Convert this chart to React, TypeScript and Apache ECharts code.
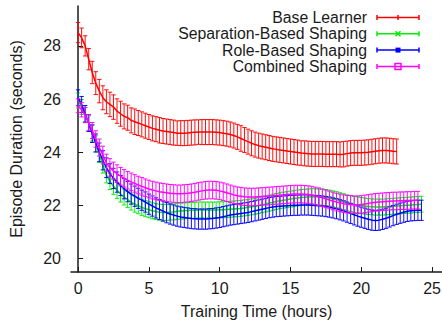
import { useEffect, useRef } from "react";
import * as echarts from "echarts";

const timeStep = 0.25;
const seriesNames = ["Base Learner", "Separation-Based Shaping", "Role-Based Shaping", "Combined Shaping"];
const seriesColors = ["#ff0000", "#00ee00", "#0000ff", "#ff00ff"];
const xTicks = [0, 5, 10, 15, 20, 25];
const yTicks = [20, 22, 24, 26, 28];

const baseMean = [
  28.5, 28.3, 28.0, 27.5, 27.0, 26.6, 26.3, 26.05, 25.9, 25.8,
  25.7, 25.55, 25.45, 25.35, 25.3, 25.2, 25.15, 25.1, 25.05, 25.0,
  24.95, 24.9, 24.87, 24.83, 24.8, 24.78, 24.76, 24.74, 24.72, 24.72,
  24.72, 24.73, 24.74, 24.75, 24.76, 24.76, 24.76, 24.76, 24.76, 24.75,
  24.74, 24.72, 24.7, 24.67, 24.63, 24.58, 24.52, 24.46, 24.4, 24.34,
  24.29, 24.25, 24.22, 24.19, 24.16, 24.13, 24.11, 24.09, 24.07, 24.05,
  24.03, 24.01, 23.99, 23.97, 23.96, 23.95, 23.94, 23.94, 23.94, 23.94,
  23.93, 23.93, 23.93, 23.93, 23.92, 23.93, 23.95, 23.97, 23.98, 23.98,
  23.98, 23.99, 24.0, 24.02, 24.04, 24.06, 24.07, 24.07, 24.06, 24.04,
  24.03,
];
const baseErr = [
  0.38, 0.37, 0.38, 0.40, 0.42, 0.43, 0.44, 0.45, 0.45, 0.46,
  0.46, 0.46, 0.47, 0.47, 0.47, 0.47, 0.48, 0.47, 0.47, 0.47,
  0.47, 0.47, 0.47, 0.48, 0.47, 0.47, 0.47, 0.47, 0.46, 0.47,
  0.47, 0.47, 0.47, 0.47, 0.46, 0.47, 0.47, 0.47, 0.47, 0.47,
  0.47, 0.47, 0.47, 0.47, 0.47, 0.47, 0.48, 0.47, 0.47, 0.47,
  0.47, 0.47, 0.47, 0.47, 0.47, 0.47, 0.47, 0.47, 0.47, 0.47,
  0.47, 0.47, 0.47, 0.46, 0.47, 0.47, 0.47, 0.47, 0.47, 0.47,
  0.47, 0.47, 0.47, 0.47, 0.47, 0.48, 0.47, 0.47, 0.47, 0.47,
  0.47, 0.47, 0.47, 0.47, 0.47, 0.47, 0.47, 0.47, 0.47, 0.47,
  0.47,
];

const sepMean = [
  25.95, 25.7, 25.4, 25.08, 24.72, 24.32, 23.92, 23.52, 23.15, 22.9,
  22.72, 22.57, 22.43, 22.32, 22.22, 22.13, 22.05, 21.99, 21.93, 21.88,
  21.84, 21.8, 21.77, 21.75, 21.74, 21.74, 21.75, 21.76, 21.78, 21.79,
  21.8, 21.81, 21.82, 21.82, 21.83, 21.83, 21.83, 21.83, 21.83, 21.83,
  21.84, 21.84, 21.85, 21.86, 21.87, 21.88, 21.89, 21.91, 21.93, 21.95,
  21.97, 22.0, 22.03, 22.06, 22.09, 22.12, 22.15, 22.18, 22.2, 22.22,
  22.24, 22.26, 22.28, 22.3, 22.31, 22.32, 22.33, 22.33, 22.32, 22.31,
  22.3, 22.28, 22.25, 22.22, 22.18, 22.14, 22.1, 22.07, 22.04, 22.02,
  22.0, 21.98, 21.96, 21.95, 21.94, 21.94, 21.94, 21.95, 21.96, 21.97,
  21.98, 21.99, 22.0, 22.01, 22.02, 22.03, 22.04, 22.05,
];
const sepErr = [
  0.28, 0.28, 0.29, 0.29, 0.3, 0.3, 0.3, 0.3, 0.3, 0.3,
  0.3, 0.3, 0.3, 0.3, 0.3, 0.3, 0.3, 0.3, 0.3, 0.3,
  0.3, 0.3, 0.3, 0.3, 0.3, 0.3, 0.3, 0.3, 0.3, 0.3,
  0.3, 0.3, 0.3, 0.3, 0.3, 0.3, 0.3, 0.3, 0.3, 0.3,
  0.3, 0.3, 0.3, 0.3, 0.3, 0.3, 0.3, 0.3, 0.3, 0.3,
  0.3, 0.3, 0.3, 0.3, 0.3, 0.3, 0.3, 0.3, 0.3, 0.3,
  0.3, 0.3, 0.3, 0.3, 0.3, 0.3, 0.3, 0.3, 0.3, 0.3,
  0.3, 0.3, 0.3, 0.3, 0.3, 0.3, 0.3, 0.3, 0.3, 0.3,
  0.3, 0.3, 0.3, 0.3, 0.3, 0.3, 0.3, 0.3, 0.3, 0.3,
  0.3, 0.3, 0.3, 0.3, 0.3, 0.3, 0.3, 0.3,
];

const roleMean = [
  26.05, 25.8, 25.45, 25.1, 24.7, 24.35, 24.0, 23.7, 23.42, 23.2,
  23.02, 22.88, 22.75, 22.63, 22.52, 22.43, 22.35, 22.27, 22.2, 22.13,
  22.05, 21.98, 21.91, 21.85, 21.79, 21.73, 21.68, 21.64, 21.6, 21.57,
  21.55, 21.53, 21.51, 21.5, 21.49, 21.49, 21.49, 21.5, 21.51, 21.53,
  21.55, 21.58, 21.61, 21.64, 21.66, 21.68, 21.7, 21.72, 21.74, 21.77,
  21.8, 21.83, 21.86, 21.89, 21.92, 21.94, 21.96, 21.97, 21.98, 21.99,
  22.0, 22.01, 22.01, 22.02, 22.02, 22.02, 22.01, 22.0, 21.99, 21.98,
  21.96, 21.94, 21.91, 21.88, 21.84, 21.8, 21.75, 21.7, 21.65, 21.6,
  21.56, 21.52, 21.48, 21.45, 21.44, 21.45, 21.48, 21.52, 21.57, 21.62,
  21.67, 21.71, 21.75, 21.78, 21.8, 21.81, 21.82, 21.82,
];
const roleErr = [
  0.3, 0.3, 0.31, 0.32, 0.33, 0.34, 0.35, 0.36, 0.37, 0.37,
  0.38, 0.38, 0.38, 0.38, 0.38, 0.38, 0.38, 0.38, 0.38, 0.38,
  0.38, 0.38, 0.38, 0.38, 0.38, 0.38, 0.38, 0.38, 0.38, 0.38,
  0.38, 0.38, 0.38, 0.38, 0.38, 0.38, 0.38, 0.38, 0.38, 0.38,
  0.38, 0.38, 0.38, 0.38, 0.38, 0.38, 0.38, 0.38, 0.38, 0.38,
  0.38, 0.38, 0.38, 0.38, 0.38, 0.38, 0.38, 0.38, 0.38, 0.38,
  0.38, 0.38, 0.38, 0.38, 0.38, 0.38, 0.38, 0.38, 0.38, 0.38,
  0.38, 0.38, 0.38, 0.38, 0.38, 0.38, 0.38, 0.38, 0.38, 0.38,
  0.38, 0.38, 0.38, 0.38, 0.38, 0.38, 0.38, 0.38, 0.38, 0.38,
  0.38, 0.38, 0.38, 0.38, 0.38, 0.38, 0.38, 0.38,
];

const combMean = [
  25.75, 25.6, 25.4, 25.12, 24.82, 24.5, 24.18, 23.9, 23.6, 23.43,
  23.3, 23.2, 23.1, 23.02, 22.95, 22.89, 22.83, 22.77, 22.72, 22.67,
  22.62, 22.58, 22.55, 22.52, 22.5, 22.48, 22.46, 22.45, 22.44, 22.44,
  22.45, 22.46, 22.48, 22.5, 22.53, 22.55, 22.57, 22.58, 22.58, 22.57,
  22.55, 22.52, 22.48, 22.44, 22.4, 22.37, 22.35, 22.33, 22.32, 22.32,
  22.32, 22.33, 22.34, 22.35, 22.36, 22.37, 22.38, 22.39, 22.4, 22.41,
  22.42, 22.43, 22.43, 22.43, 22.42, 22.41, 22.39, 22.36, 22.33, 22.29,
  22.25, 22.21, 22.17, 22.13, 22.1, 22.07, 22.05, 22.04, 22.03, 22.03,
  22.04, 22.06, 22.08, 22.1, 22.12, 22.13, 22.14, 22.15, 22.16, 22.17,
  22.17, 22.18, 22.18, 22.19, 22.19, 22.2, 22.2,
];
const combErr = [
  0.26, 0.27, 0.28, 0.29, 0.3, 0.31, 0.32, 0.33, 0.33, 0.33,
  0.33, 0.33, 0.33, 0.33, 0.33, 0.33, 0.33, 0.33, 0.33, 0.33,
  0.33, 0.33, 0.33, 0.33, 0.33, 0.33, 0.33, 0.33, 0.33, 0.33,
  0.33, 0.33, 0.33, 0.33, 0.33, 0.33, 0.33, 0.33, 0.33, 0.33,
  0.33, 0.33, 0.33, 0.33, 0.33, 0.33, 0.33, 0.33, 0.33, 0.33,
  0.33, 0.33, 0.33, 0.33, 0.33, 0.33, 0.33, 0.33, 0.33, 0.33,
  0.33, 0.33, 0.33, 0.33, 0.33, 0.33, 0.33, 0.33, 0.33, 0.33,
  0.33, 0.33, 0.33, 0.33, 0.33, 0.33, 0.33, 0.33, 0.33, 0.33,
  0.33, 0.33, 0.33, 0.33, 0.33, 0.33, 0.33, 0.33, 0.33, 0.33,
  0.33, 0.33, 0.33, 0.33, 0.33, 0.33, 0.33,
];

const allMeans = [baseMean, sepMean, roleMean, combMean];
const allErrs = [baseErr, sepErr, roleErr, combErr];

const FONT = "'Liberation Sans', Arial, Helvetica, sans-serif";
const INK = "#1a1a1a";

function buildRows(mean: number[], err: number[]) {
  return mean.map((m, i) => [i * timeStep, m, m - err[i], m + err[i]]);
}

function legendGraphics() {
  const els: any[] = [];
  const textRight = 367;
  const lx1 = 377;
  const lx2 = 419;
  const mx = 398;
  seriesNames.forEach((name, i) => {
    const y = 17.5 + 16.3 * i;
    const c = seriesColors[i];
    const st = { stroke: c, lineWidth: 1.5 };
    els.push({
      type: "text",
      x: textRight,
      y,
      style: {
        text: name,
        fontSize: 15.8,
        fontFamily: FONT,
        fill: INK,
        align: "right",
        verticalAlign: "middle",
        textAlign: "right",
        textVerticalAlign: "middle",
      },
    });
    els.push({ type: "line", shape: { x1: lx1, y1: y, x2: lx2, y2: y }, style: st });
    els.push({ type: "line", shape: { x1: lx1, y1: y - 2.5, x2: lx1, y2: y + 2.5 }, style: st });
    els.push({ type: "line", shape: { x1: lx2, y1: y - 2.5, x2: lx2, y2: y + 2.5 }, style: st });
    if (i === 0) {
      els.push({ type: "line", shape: { x1: mx, y1: y - 2.5, x2: mx, y2: y + 2.5 }, style: st });
    } else if (i === 1) {
      els.push({ type: "line", shape: { x1: mx - 2.5, y1: y - 2.5, x2: mx + 2.5, y2: y + 2.5 }, style: st });
      els.push({ type: "line", shape: { x1: mx - 2.5, y1: y + 2.5, x2: mx + 2.5, y2: y - 2.5 }, style: st });
    } else if (i === 2) {
      els.push({ type: "rect", shape: { x: mx - 2.5, y: y - 2.5, width: 5, height: 5 }, style: { fill: c } });
    } else {
      els.push({
        type: "rect",
        shape: { x: mx - 3, y: y - 3, width: 6, height: 6 },
        style: { fill: "none", stroke: c, lineWidth: 1.5 },
      });
    }
  });
  return els;
}

export default function App() {
  const ref = useRef<HTMLDivElement>(null);
  useEffect(() => {
    if (!ref.current) return;
    const chart = echarts.init(ref.current, undefined, { renderer: "svg" });
    const series: any[] = [];
    allMeans.forEach((mean, i) => {
      const rows = buildRows(mean, allErrs[i]);
      const color = seriesColors[i];
      series.push({
        type: "custom",
        name: seriesNames[i],
        z: 10 + i * 2,
        data: rows,
        encode: { x: 0, y: [1, 2, 3] },
        renderItem: (_params: any, api: any) => {
          const x = api.value(0);
          const lo = api.coord([x, api.value(2)]);
          const hi = api.coord([x, api.value(3)]);
          const cap = 2.2;
          const style = { stroke: color, lineWidth: 1, opacity: 0.95 };
          return {
            type: "group",
            children: [
              { type: "line", shape: { x1: lo[0], y1: lo[1], x2: hi[0], y2: hi[1] }, style },
              { type: "line", shape: { x1: lo[0] - cap, y1: lo[1], x2: lo[0] + cap, y2: lo[1] }, style },
              { type: "line", shape: { x1: hi[0] - cap, y1: hi[1], x2: hi[0] + cap, y2: hi[1] }, style },
            ],
          };
        },
      });
      series.push({
        type: "line",
        name: seriesNames[i] + " mean",
        z: 11 + i * 2,
        data: rows.map((r) => [r[0], r[1]]),
        showSymbol: false,
        symbol: "none",
        lineStyle: { color, width: 1.5 },
      });
    });

    const axisLineStyle = { color: INK, width: 1.5 };
    chart.setOption({
      animation: false,
      backgroundColor: "#ffffff",
      textStyle: { fontFamily: FONT },
      grid: { left: 71, top: 6, right: 0, bottom: 50, containLabel: false, outerBoundsMode: "none" },
      xAxis: {
        type: "value",
        min: -0.5,
        max: 25.7,
        name: "Training Time (hours)",
        nameLocation: "middle",
        nameGap: 31,
        nameTextStyle: { fontSize: 16, color: INK, fontFamily: FONT },
        axisLine: { show: true, lineStyle: axisLineStyle },
        axisTick: { show: true, inside: true, length: 5, customValues: xTicks, lineStyle: { color: INK, width: 1 } },
        axisLabel: { customValues: xTicks, fontSize: 16, color: INK, margin: 8, fontFamily: FONT },
        splitLine: { show: false },
      },
      yAxis: {
        type: "value",
        min: 19.5,
        max: 29.5,
        name: "Episode Duration (seconds)",
        nameLocation: "middle",
        nameGap: 47,
        nameRotate: 90,
        nameTextStyle: { fontSize: 16, color: INK, fontFamily: FONT },
        axisLine: { show: true, lineStyle: axisLineStyle },
        axisTick: { show: true, inside: true, length: 5, customValues: yTicks, lineStyle: { color: INK, width: 1 } },
        axisLabel: { customValues: yTicks, fontSize: 16, color: INK, margin: 10, fontFamily: FONT },
        splitLine: { show: false },
      },
      graphic: legendGraphics(),
      series,
    });
    return () => chart.dispose();
  }, []);
  return <div ref={ref} style={{ position: "fixed", left: 0, top: 0, width: 442, height: 322 }} />;
}
